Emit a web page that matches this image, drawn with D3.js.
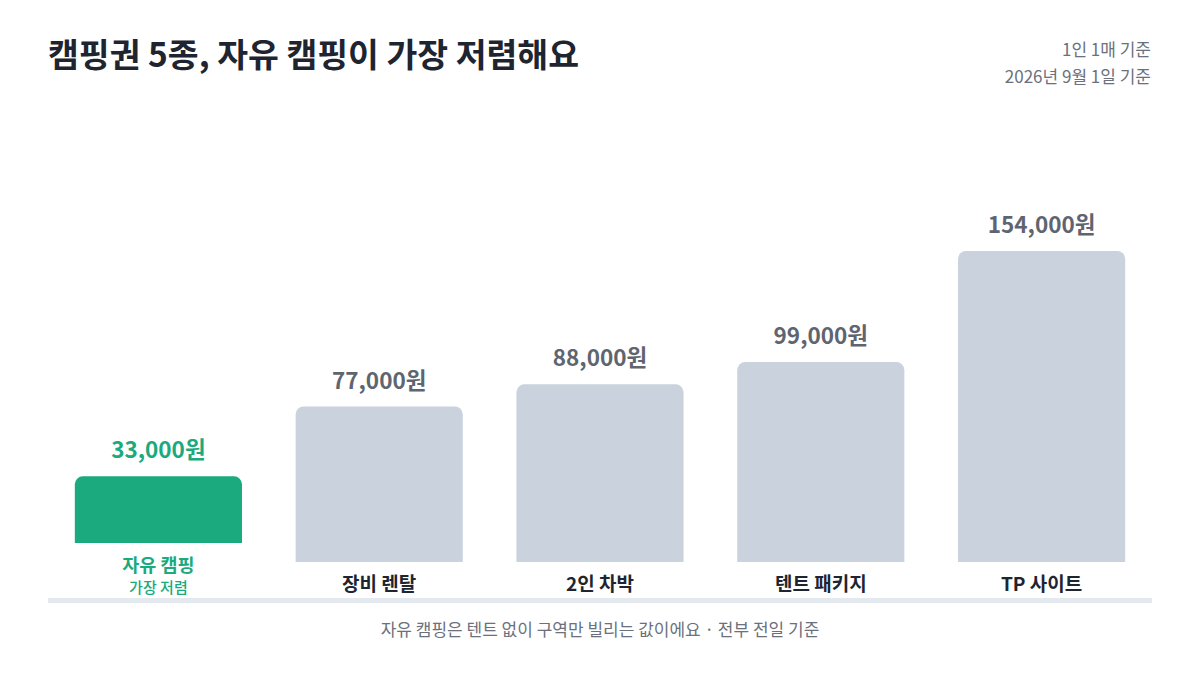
<!DOCTYPE html>
<html>
<head>
<meta charset="utf-8">
<script src="https://cdn.jsdelivr.net/npm/d3@7"></script>
<style>
  body { margin: 0; background: #fff; }
  svg { display: block; font-family: "Noto Sans CJK KR", "Noto Sans", sans-serif; }
</style>
</head>
<body>
<script>
// chart data
var categories = ["자유 캠핑", "장비 렌탈", "2인 차박", "텐트 패키지", "TP 사이트"];
var prices = [33000, 77000, 88000, 99000, 154000];
var highlight = "자유 캠핑";
var highlightNote = "가장 저렴";

var title = "캠핑권 5종, 자유 캠핑이 가장 저렴해요";
var notes = ["1인 1매 기준", "2026년 9월 1일 기준"];
var footnote = "자유 캠핑은 텐트 없이 구역만 빌리는 값이에요 · 전부 전일 기준";

var W = 1200, H = 674;
var margin = {left: 48, right: 48},
    baseY = 562,      // bottom of the gray bars
    hiLift = 19,      // highlighted bar sits higher to make room for 2-line label
    radius = 8;

var green = "#1aaa7d", barGray = "#cad2dd";

var svg = d3.select("body")
  .append("svg")
  .attr("width", W)
  .attr("height", H);

// scales
var x = d3.scaleBand()
  .domain(categories)
  .range([margin.left, W - margin.right])
  .paddingInner(0.243)
  .paddingOuter(0.1215);

var y = d3.scaleLinear()
  .domain([0, 154000])
  .range([0, 311]);

var data = categories.map(function(c, i) {
  return {name: c, value: prices[i], hi: c === highlight};
});

// rect with only the top corners rounded
function topRounded(x0, y0, w, h, r) {
  var p = d3.path();
  p.moveTo(x0, y0 + h);
  p.lineTo(x0, y0 + r);
  p.arcTo(x0, y0, x0 + r, y0, r);
  p.lineTo(x0 + w - r, y0);
  p.arcTo(x0 + w, y0, x0 + w, y0 + r, r);
  p.lineTo(x0 + w, y0 + h);
  p.closePath();
  return p.toString();
}

function bottomOf(d) { return d.hi ? baseY - hiLift : baseY; }

// title
svg.append("text")
  .attr("x", 48)
  .attr("y", 67)
  .attr("font-size", 33.5)
  .attr("font-weight", 700)
  .attr("fill", "#1e2530")
  .text(title);

svg.selectAll("text.note")
  .data(notes)
  .enter()
  .append("text")
  .attr("class", "note")
  .attr("x", 1151)
  .attr("y", (d, i) => 56 + i * 27)
  .attr("text-anchor", "end")
  .attr("font-size", 17)
  .attr("fill", "#6b717c")
  .text(d => d);

// bars
svg.selectAll("path.bar")
  .data(data)
  .enter()
  .append("path")
  .attr("class", "bar")
  .attr("d", d => topRounded(x(d.name), bottomOf(d) - y(d.value), x.bandwidth(), y(d.value), radius))
  .attr("fill", d => d.hi ? green : barGray);

// value labels
svg.selectAll("text.val")
  .data(data)
  .enter()
  .append("text")
  .attr("class", "val")
  .attr("x", d => x(d.name) + x.bandwidth() / 2)
  .attr("y", d => bottomOf(d) - y(d.value) - 18)
  .attr("text-anchor", "middle")
  .attr("font-size", 22.5)
  .attr("font-weight", 700)
  .attr("fill", d => d.hi ? green : "#5f6570")
  .text(d => d3.format(",")(d.value) + "원");

// category labels
svg.selectAll("text.cat")
  .data(data)
  .enter()
  .append("text")
  .attr("class", "cat")
  .attr("x", d => x(d.name) + x.bandwidth() / 2)
  .attr("y", d => d.hi ? 572 : 591)
  .attr("text-anchor", "middle")
  .attr("font-size", d => d.hi ? 18.5 : 19)
  .attr("font-weight", 700)
  .attr("fill", d => d.hi ? green : "#1e2530")
  .text(d => d.name);

svg.append("text")
  .attr("x", x(highlight) + x.bandwidth() / 2)
  .attr("y", 593)
  .attr("text-anchor", "middle")
  .attr("font-size", 15)
  .attr("font-weight", 500)
  .attr("fill", green)
  .text(highlightNote);

// baseline
svg.append("rect")
  .attr("x", margin.left)
  .attr("y", 598)
  .attr("width", W - margin.left - margin.right)
  .attr("height", 5)
  .attr("fill", "#e4e8ef");

// footnote
svg.append("text")
  .attr("x", W / 2)
  .attr("y", 636)
  .attr("text-anchor", "middle")
  .attr("font-size", 17)
  .attr("fill", "#6b717c")
  .text(footnote);
</script>
</body>
</html>
